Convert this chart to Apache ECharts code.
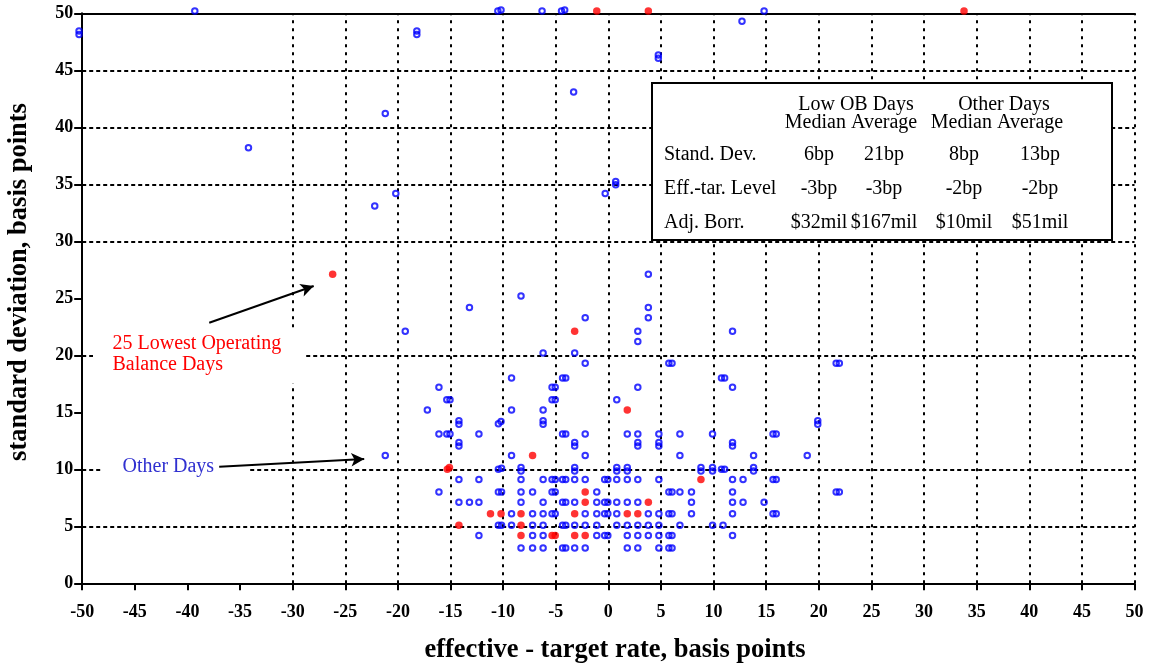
<!DOCTYPE html>
<html>
<head>
<meta charset="utf-8">
<script src="https://cdn.jsdelivr.net/npm/echarts@6/dist/echarts.min.js"></script>
<style>
  html, body { margin: 0; padding: 0; background: #fff; }
  #chart { width: 1149px; height: 665px; }
</style>
</head>
<body>
<div id="chart"></div>
<script>
// Days outside the low operating balance group: [effective - target (bp), std. dev. (bp)]
const otherDays = [
  [-8.3,3.1],[-7.2,3.1],[-6.2,3.1],[-4.35,3.1],[-4.05,3.1],[-3.2,3.1],[-2.2,3.1],[1.8,3.1],[2.8,3.1],[4.8,3.1],[5.75,3.1],[6.05,3.1],
  [-12.3,4.2],[-7.2,4.2],[-6.2,4.2],[-1.1,4.2],[-0.35,4.2],[-0.05,4.2],[1.8,4.2],[2.8,4.2],[3.8,4.2],[4.8,4.2],[5.75,4.2],[6.05,4.2],[11.8,4.2],
  [-10.45,5.1],[-10.15,5.1],[-9.2,5.1],[-7.2,5.1],[-6.2,5.1],[-4.35,5.1],[-4.05,5.1],[-3.2,5.1],[-2.2,5.1],[-1.1,5.1],[0.8,5.1],[1.8,5.1],[2.8,5.1],[3.8,5.1],[4.8,5.1],[6.8,5.1],[9.9,5.1],[10.9,5.1],
  [-9.2,6.1],[-7.2,6.1],[-6.2,6.1],[-5.35,6.1],[-5.05,6.1],[-2.2,6.1],[-1.1,6.1],[-0.35,6.1],[-0.05,6.1],[0.8,6.1],[3.8,6.1],[4.8,6.1],[5.75,6.1],[6.05,6.1],[7.9,6.1],[11.8,6.1],[15.65,6.1],[15.95,6.1],
  [-14.2,7.1],[-13.2,7.1],[-12.3,7.1],[-8.3,7.1],[-6.2,7.1],[-4.35,7.1],[-4.05,7.1],[-3.2,7.1],[-1.1,7.1],[-0.35,7.1],[-0.05,7.1],[0.8,7.1],[1.8,7.1],[2.8,7.1],[7.9,7.1],[11.8,7.1],[12.8,7.1],[14.8,7.1],
  [-16.1,8.0],[-10.45,8.0],[-10.15,8.0],[-8.3,8.0],[-7.2,8.0],[-5.35,8.0],[-5.05,8.0],[-1.1,8.0],[5.75,8.0],[6.05,8.0],[6.8,8.0],[7.9,8.0],[11.8,8.0],[21.65,8.0],[21.95,8.0],
  [-14.2,9.1],[-12.3,9.1],[-8.3,9.1],[-6.2,9.1],[-5.35,9.1],[-5.05,9.1],[-4.35,9.1],[-4.05,9.1],[-3.2,9.1],[-2.2,9.1],[-0.35,9.1],[-0.05,9.1],[0.8,9.1],[1.8,9.1],[2.8,9.1],[4.8,9.1],[11.8,9.1],[12.8,9.1],[15.65,9.1],[15.95,9.1],
  [-10.45,10.0],[-10.15,10.1],[-8.3,9.85],[-8.3,10.15],[-3.2,9.85],[-3.2,10.15],[0.8,9.85],[0.8,10.15],[1.8,9.85],[1.8,10.15],[8.8,9.85],[8.8,10.15],[9.9,9.85],[9.9,10.15],[10.75,10.0],[11.05,10.0],[13.8,9.85],[13.8,10.15],
  [-21.2,11.2],[-9.2,11.2],[-2.2,11.2],[6.8,11.2],[13.8,11.2],[18.9,11.2],
  [-14.2,12.05],[-14.2,12.35],[-3.2,12.05],[-3.2,12.35],[2.8,12.05],[2.8,12.35],[4.8,12.05],[4.8,12.35],[11.8,12.05],[11.8,12.35],
  [-16.1,13.1],[-15.35,13.1],[-15.05,13.1],[-12.3,13.1],[-4.35,13.1],[-4.05,13.1],[-2.2,13.1],[1.8,13.1],[2.8,13.1],[4.8,13.1],[6.8,13.1],[9.9,13.1],[15.65,13.1],[15.95,13.1],
  [-14.2,13.95],[-14.2,14.25],[-10.45,14.0],[-10.2,14.2],[-6.2,13.95],[-6.2,14.25],[19.9,13.95],[19.9,14.25],
  [-17.2,15.2],[-9.2,15.2],[-6.2,15.2],
  [-15.35,16.1],[-15.05,16.1],[-5.35,16.1],[-5.05,16.1],[0.8,16.1],
  [-16.1,17.2],[-5.35,17.2],[-5.05,17.2],[2.8,17.2],[11.8,17.2],
  [-9.2,18.0],[-4.35,18.0],[-4.05,18.0],[10.75,18.0],[11.05,18.0],
  [-2.2,19.3],[5.75,19.3],[6.05,19.3],[21.65,19.3],[21.95,19.3],
  [-6.2,20.2],[-3.2,20.2],
  [2.8,21.2],
  [-19.3,22.1],[2.8,22.1],[11.8,22.1],
  [-2.2,23.3],[3.8,23.3],
  [-13.2,24.2],[3.8,24.2],
  [-8.3,25.2],
  [3.8,27.1],
  [-22.2,33.1],[-20.2,34.2],[-0.3,34.2],[0.7,34.95],[0.7,35.25],
  [-34.2,38.2],[-21.2,41.2],[-3.3,43.1],[4.75,46.05],[4.75,46.35],
  [-50.3,48.15],[-50.3,48.45],[-18.2,48.15],[-18.2,48.45],[12.7,49.3],
  [-39.3,50.2],[-10.5,50.2],[-10.2,50.3],[-6.3,50.2],[-4.45,50.2],[-4.15,50.3],[14.8,50.2]
];

// The 25 lowest operating balance days
const lowBalanceDays = [
  [-26.2,27.1],[-15.3,10.0],[-15.1,10.15],[-14.2,5.1],[-11.2,6.1],[-10.2,6.1],
  [-8.3,6.1],[-8.3,5.1],[-8.3,4.2],[-7.2,11.2],[-5.35,4.2],[-5.05,4.2],
  [-3.2,22.1],[-3.2,6.1],[-3.2,4.2],[-2.2,8.0],[-2.2,7.1],[-2.2,4.2],
  [1.8,15.2],[1.8,6.1],[2.8,6.1],[3.8,7.1],[8.8,9.1],
  [-1.1,50.2],[3.8,50.2],[33.8,50.2]
];

// Axis ranges and reference grid lines
const xRange = [-50, 50];
const yRange = [0, 50];
const tickStep = 5;
const xGridValues = [-30,-25,-20,-15,-10,-5,0,5,10,15,20,25,30,35,40,45,50];
const yGridValues = [5,10,20,30,35,40,45];

// Annotation arrows, in data units: [start, end]
const arrowLowBalance = [[-37.93, 22.86], [-28.0, 26.08]];
const arrowOtherDays = [[-36.98, 10.23], [-23.2, 10.9]];

// Summary table
const tableRowLabels = ['Stand. Dev.', 'Eff.-tar. Level', 'Adj. Borr.'];
const lowObMedian = ['6bp', '-3bp', '$32mil'];
const lowObAverage = ['21bp', '-3bp', '$167mil'];
const otherMedian = ['8bp', '-2bp', '$10mil'];
const otherAverage = ['13bp', '-2bp', '$51mil'];

const SERIF = 'Liberation Serif, Times New Roman, serif';

function txt(text, x, y, align, color, size, bold) {
  return {
    type: 'text', z: 12,
    style: {
      text: text, x: x, y: y,
      align: align || 'left', verticalAlign: 'middle',
      fontFamily: SERIF, fontSize: size || 20, fill: color || '#000',
      fontWeight: bold ? 'bold' : 'normal'
    }
  };
}

const tableCols = [819, 884, 964, 1040];
const tableRowY = [155, 189, 222.5];
const tableElements = [
  { type: 'rect', z: 10, shape: { x: 652, y: 83, width: 460, height: 157 },
    style: { fill: '#fff', stroke: '#000', lineWidth: 2 } },
  txt('Low OB Days', 856, 105, 'center'),
  txt('Median Average', 851, 122.5, 'center'),
  txt('Other Days', 1004, 105, 'center'),
  txt('Median Average', 997, 122.5, 'center')
];
tableRowLabels.forEach(function (label, i) {
  tableElements.push(txt(label, 664, tableRowY[i], 'left'));
  [lowObMedian, lowObAverage, otherMedian, otherAverage].forEach(function (col, c) {
    tableElements.push(txt(col[i], tableCols[c], tableRowY[i], 'center'));
  });
});

const labelElements = [
  { type: 'rect', z: 10, shape: { x: 93, y: 330, width: 212, height: 53 }, style: { fill: '#fff' } },
  txt('25 Lowest Operating', 112.5, 343.6, 'left', '#ff0000', 20),
  txt('Balance Days', 112.5, 365, 'left', '#ff0000', 20),
  { type: 'rect', z: 10, shape: { x: 103, y: 457, width: 145, height: 20 }, style: { fill: '#fff' } },
  txt('Other Days', 122.5, 466.7, 'left', '#3030d0', 20)
];

// Axis titles
const titleElements = [
  txt('effective - target rate, basis points', 615, 650, 'center', '#000', 26.5, true),
  {
    type: 'text', z: 12, x: 19, y: 282, rotation: Math.PI / 2,
    style: {
      text: 'standard deviation, basis points', x: 0, y: 0,
      align: 'center', verticalAlign: 'middle',
      fontFamily: SERIF, fontSize: 26.5, fontWeight: 'bold', fill: '#000'
    }
  }
];

const axisLineStyle = { color: '#000', width: 2 };
const tickLabelStyle = { fontFamily: SERIF, fontWeight: 'bold', fontSize: 18, color: '#000' };

const chart = echarts.init(document.getElementById('chart'), null, { renderer: 'canvas' });
chart.setOption({
  animation: false,
  backgroundColor: '#fff',
  grid: { left: 82.2, right: 14.5, top: 13.3, bottom: 81.7, containLabel: false, outerBoundsMode: 'none' },
  xAxis: [
    {
      type: 'value', min: xRange[0], max: xRange[1], interval: tickStep, position: 'bottom',
      axisLine: { show: true, onZero: false, lineStyle: axisLineStyle },
      axisTick: { show: true, length: 7, lineStyle: axisLineStyle },
      axisLabel: Object.assign({ margin: 20 }, tickLabelStyle),
      splitLine: { show: false }
    },
    {
      type: 'value', min: xRange[0], max: xRange[1], interval: tickStep, position: 'top',
      axisLine: { show: true, onZero: false, lineStyle: axisLineStyle },
      axisTick: { show: false }, axisLabel: { show: false }, splitLine: { show: false }
    }
  ],
  yAxis: {
    type: 'value', min: yRange[0], max: yRange[1], interval: tickStep,
    axisLine: { show: true, onZero: false, lineStyle: axisLineStyle },
    axisTick: { show: true, length: 8, lineStyle: axisLineStyle },
    axisLabel: Object.assign({ margin: 9 }, tickLabelStyle),
    splitLine: { show: false }
  },
  graphic: { elements: labelElements.concat(tableElements, titleElements) },
  series: [
    {
      // reference grid
      type: 'scatter', data: [], silent: true, z: 1,
      markLine: {
        silent: true, z: 1, symbol: ['none', 'none'], label: { show: false },
        animation: false,
        data: xGridValues.map(function (v) {
          return { xAxis: v, lineStyle: { color: '#000', width: 2, type: [3, 5] } };
        }).concat(yGridValues.map(function (v) {
          return { yAxis: v, lineStyle: { color: '#000', width: 2, type: [4, 3] } };
        }))
      }
    },
    {
      name: 'Other Days', type: 'scatter', data: otherDays, clip: false, z: 3,
      symbol: 'circle', symbolSize: 5.5,
      itemStyle: { color: 'rgba(0,0,0,0)', borderColor: '#0000ff', borderWidth: 2 }
    },
    {
      name: '25 Lowest Operating Balance Days', type: 'scatter', data: lowBalanceDays, clip: false, z: 4,
      symbol: 'circle', symbolSize: 7.5,
      itemStyle: { color: '#ff0000' }
    },
    {
      // annotation arrows
      type: 'scatter', data: [], silent: true, z: 20,
      markLine: {
        silent: true, z: 20, symbol: ['none', 'arrow'], symbolSize: [10, 13],
        label: { show: false }, animation: false,
        lineStyle: { color: '#000', width: 2, type: 'solid' },
        data: [
          [{ coord: arrowLowBalance[0] }, { coord: arrowLowBalance[1] }],
          [{ coord: arrowOtherDays[0] }, { coord: arrowOtherDays[1] }]
        ]
      }
    }
  ]
});
</script>
</body>
</html>
